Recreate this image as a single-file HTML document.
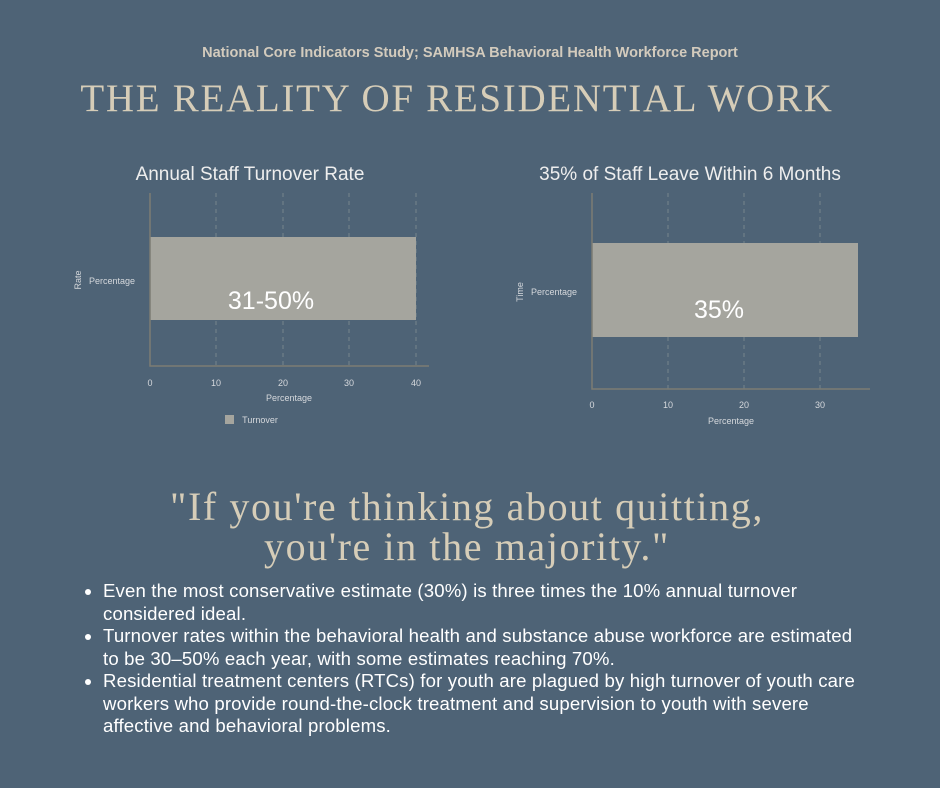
<!DOCTYPE html>
<html><head><meta charset="utf-8"><style>
html,body{margin:0;padding:0}
body{width:940px;height:788px;background:#4e6376;position:relative;overflow:hidden;font-family:"Liberation Sans",sans-serif}
.a{position:absolute;white-space:nowrap}
ul{position:absolute;left:80px;top:580px;margin:0;padding:0 0 0 23px;width:800px;color:#fff;font-size:18.6px;line-height:22.5px;letter-spacing:0.15px;list-style:disc;white-space:nowrap}
li{margin:0}
</style></head><body>
<div class="a" style="left:0;width:940px;text-align:center;top:45px;font-weight:bold;font-size:14.5px;color:#d3cbbd">National Core Indicators Study; SAMHSA Behavioral Health Workforce Report</div>
<div class="a" style="left:0;width:914px;text-align:center;top:76px;font-family:'Liberation Serif',serif;font-size:39px;letter-spacing:1.7px;color:#d6cdb8">THE REALITY OF RESIDENTIAL WORK</div>
<svg class="a" style="left:0;top:0" width="940" height="480" font-family="Liberation Sans, sans-serif">
<g fill="#eee" font-size="19" text-anchor="middle"><text x="250" y="180">Annual Staff Turnover Rate</text><text x="690" y="180">35% of Staff Leave Within 6 Months</text></g>
<g stroke="#77848c" stroke-dasharray="4,4" stroke-width="1"><line x1="216" y1="193" x2="216" y2="366"/><line x1="283" y1="193" x2="283" y2="366"/><line x1="349" y1="193" x2="349" y2="366"/><line x1="416" y1="193" x2="416" y2="366"/>
<line x1="668" y1="193" x2="668" y2="389"/><line x1="744" y1="193" x2="744" y2="389"/><line x1="820" y1="193" x2="820" y2="389"/></g>
<rect x="150" y="237" width="266" height="83" fill="#a5a59e"/>
<rect x="592" y="243" width="266" height="94" fill="#a5a59e"/>
<g stroke="#7d7d73" stroke-width="1.5" fill="none"><path d="M150 193V366H429"/><path d="M592 193V389H870"/></g>
<g fill="#fff" font-size="25" text-anchor="middle"><text x="271" y="309">31-50%</text><text x="719" y="318">35%</text></g>
<g fill="#d5d8dc" font-size="9" text-anchor="middle"><text x="150" y="386">0</text><text x="216" y="386">10</text><text x="283" y="386">20</text><text x="349" y="386">30</text><text x="416" y="386">40</text><text x="289" y="401">Percentage</text>
<text x="592" y="408">0</text><text x="668" y="408">10</text><text x="744" y="408">20</text><text x="820" y="408">30</text><text x="731" y="424">Percentage</text>
<text x="112" y="284">Percentage</text><text x="554" y="295">Percentage</text><text x="260" y="423">Turnover</text>
<text transform="translate(81,280) rotate(-90)">Rate</text><text transform="translate(523,292) rotate(-90)">Time</text></g>
<rect x="225" y="415" width="9" height="9" fill="#a5a59e"/>
</svg>
<div class="a" style="left:0;width:934px;text-align:center;top:487px;font-family:'Liberation Serif',serif;font-size:40px;line-height:40px;color:#d6cdb8;letter-spacing:1.6px">"If you're thinking about quitting,<br>you're in the majority."</div>
<ul>
<li>Even the most conservative estimate (30%) is three times the 10% annual turnover<br>considered ideal.</li>
<li>Turnover rates within the behavioral health and substance abuse workforce are estimated<br>to be 30–50% each year, with some estimates reaching 70%.</li>
<li>Residential treatment centers (RTCs) for youth are plagued by high turnover of youth care<br>workers who provide round-the-clock treatment and supervision to youth with severe<br>affective and behavioral problems.</li>
</ul>
</body></html>
